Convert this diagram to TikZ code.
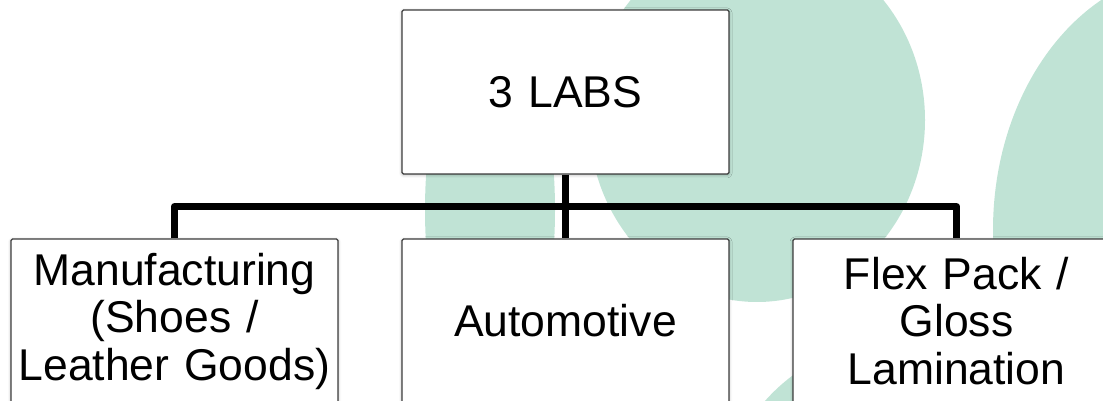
\documentclass[tikz,border=0pt]{standalone}
\usepackage{fontspec}
\setmainfont{Liberation Sans}
\usetikzlibrary{positioning, shadows.blur}
\usepackage{xcolor}

\definecolor{leafgreen}{RGB}{192,227,213}
\definecolor{boxgray}{RGB}{60,60,60}

\tikzset{
  labbox/.style={draw=boxgray, line width=1.3pt, fill=white, rounded corners=1.5pt,
    minimum width=327pt, minimum height=164pt, text width=320pt, align=center,
    inner sep=0pt, font=\fontsize{44.5}{47.5}\selectfont,
    blur shadow={shadow xshift=0pt, shadow yshift=-1pt, shadow blur radius=3pt, shadow opacity=30}},
  tree/.style={line width=7.5pt, line join=round}
}

\begin{document}
\begin{tikzpicture}[x=1pt, y=1pt]
  \useasboundingbox (0,0) rectangle (1103,401);

  % Background blobs
  \begin{scope}
    \clip (0,0) rectangle (1103,401);
    \fill[leafgreen] (757,281) ellipse [x radius=168, y radius=182];
    \fill[leafgreen] (490,191) ellipse [x radius=65, y radius=190];
    \fill[leafgreen] (1196,171) ellipse [x radius=203, y radius=260];
    \fill[leafgreen] (900,-119) circle [radius=180];
  \end{scope}

  % Top box and the three labs
  \node[labbox] (labs) at (565.5,309) {3 LABS};
  \node[labbox] (auto) at ([yshift=-229pt]labs.center) {Automotive};
  \node[labbox] (manu) at ([xshift=-391pt]auto.center) {Manufacturing\\(Shoes /\\Leather Goods)};
  \node[labbox] (flex) at ([xshift=391pt]auto.center) {Flex Pack /\\Gloss\\Lamination};

  % Connect the top box to the labs
  \coordinate (bar) at ([yshift=-32pt]labs.south);
  \draw[tree] (labs.south) -- (auto.north);
  \draw[tree] (manu.north) |- (bar) -| (flex.north);

\end{tikzpicture}
\end{document}
